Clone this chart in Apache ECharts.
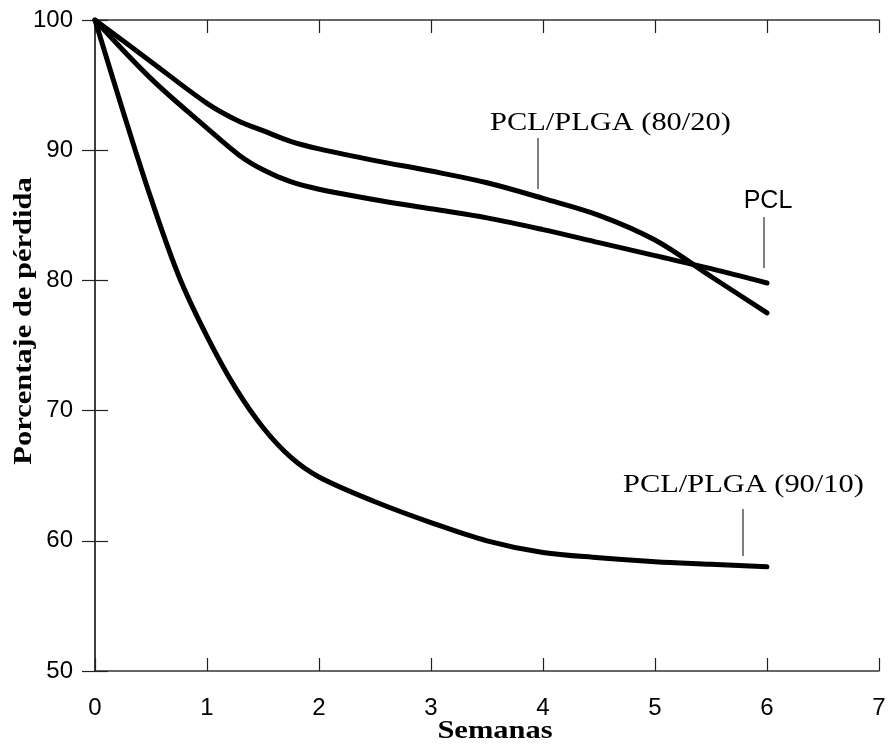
<!DOCTYPE html>
<html>
<head>
<meta charset="utf-8">
<script src="https://cdn.jsdelivr.net/npm/echarts@6/dist/echarts.min.js"></script>
<style>html,body{margin:0;padding:0;background:#fff}#c{width:888px;height:745px}</style>
</head>
<body>
<div id="c"></div>
<script>
// Data (weeks, percent)
const xTicks = [0, 1, 2, 3, 4, 5, 6, 7];
const yTicks = [50, 60, 70, 80, 90, 100];

const pclX = [0, 0.5, 1, 1.29, 1.5, 1.74, 2, 2.5, 3, 3.5, 4, 4.5, 5, 5.5, 6];
const pclY = [100, 95.5, 91.7, 89.6, 88.5, 87.6, 87.0, 86.2, 85.5, 84.8, 83.9, 82.9, 81.9, 80.9, 79.8];

const p8020X = [0, 0.5, 1, 1.29, 1.5, 1.74, 2, 2.5, 3, 3.5, 4, 4.5, 5, 5.5, 6];
const p8020Y = [100, 96.8, 93.6, 92.2, 91.5, 90.7, 90.1, 89.2, 88.4, 87.5, 86.3, 85.0, 83.1, 80.3, 77.5];

const p9010X = [0, 0.25, 0.5, 0.75, 1, 1.25, 1.5, 1.75, 2, 2.5, 3, 3.5, 4, 4.5, 5, 5.5, 6];
const p9010Y = [100, 93.0, 86.3, 80.3, 75.7, 71.8, 68.7, 66.4, 64.9, 63.0, 61.4, 60.0, 59.1, 58.7, 58.4, 58.2, 58.0];

const labels = ['PCL/PLGA (80/20)', 'PCL', 'PCL/PLGA (90/10)'];
const xTitle = 'Semanas';
const yTitle = 'Porcentaje de pérdida';

function pairs(xs, ys) { return xs.map((x, i) => [x, ys[i]]); }

const chart = echarts.init(document.getElementById('c'));
const axisLine = { show: true, lineStyle: { color: '#333', width: 1.5 } };
const tick = { show: true, inside: true, length: 13, lineStyle: { color: '#222', width: 1.2 } };
const serif = '"Liberation Serif", "Times New Roman", serif';
const sans = '"Liberation Sans", Arial, sans-serif';

const lineSeries = (name, data) => ({
  name, type: 'line', data, smooth: 0.35, showSymbol: false, symbol: 'none',
  lineStyle: { color: '#000', width: 5, cap: 'round', join: 'round' }, z: 5
});

chart.setOption({
  animation: false,
  grid: { left: 95, right: 9, top: 20, bottom: 74, containLabel: false, outerBoundsMode: 'none' },
  xAxis: [
    { type: 'value', min: 0, max: 7, interval: 1, position: 'bottom',
      axisLine, axisTick: tick, splitLine: { show: false },
      axisLabel: { fontFamily: sans, fontSize: 24, color: '#000', margin: 25 } },
    { type: 'value', min: 0, max: 7, interval: 1, position: 'top',
      axisLine, axisTick: tick, splitLine: { show: false }, axisLabel: { show: false } }
  ],
  yAxis: [
    { type: 'value', min: 50, max: 100, interval: 10, position: 'left',
      axisLine, axisTick: tick, splitLine: { show: false },
      axisLabel: { fontFamily: sans, fontSize: 24, color: '#000', margin: 22 } },
    { type: 'value', min: 50, max: 100, interval: 10, position: 'right',
      axisLine, axisTick: tick, splitLine: { show: false }, axisLabel: { show: false } }
  ],
  series: [
    lineSeries(labels[1], pairs(pclX, pclY)),
    lineSeries(labels[0], pairs(p8020X, p8020Y)),
    lineSeries(labels[2], pairs(p9010X, p9010Y))
  ],
  graphic: [
    { type: 'text', x: 495, y: 732, scaleX: 1.22,
      style: { text: xTitle, font: 'bold 25px ' + serif, fill: '#000', textAlign: 'center', textVerticalAlign: 'middle' } },
    { type: 'text', x: 25, y: 321, rotation: Math.PI / 2, scaleX: 1.22,
      style: { text: yTitle, font: 'bold 25px ' + serif, fill: '#000', textAlign: 'center', textVerticalAlign: 'middle' } },
    { type: 'text', x: 490, y: 123, scaleX: 1.17,
      style: { text: labels[0], font: '26px ' + serif, fill: '#000', textAlign: 'left', textVerticalAlign: 'middle' } },
    { type: 'line', shape: { x1: 538, y1: 138, x2: 538, y2: 189 }, style: { stroke: '#000', lineWidth: 1 } },
    { type: 'text', x: 768, y: 201,
      style: { text: labels[1], font: '25px ' + sans, fill: '#000', textAlign: 'center', textVerticalAlign: 'middle' } },
    { type: 'line', shape: { x1: 764, y1: 217, x2: 764, y2: 268 }, style: { stroke: '#000', lineWidth: 1 } },
    { type: 'text', x: 623, y: 485, scaleX: 1.17,
      style: { text: labels[2], font: '26px ' + serif, fill: '#000', textAlign: 'left', textVerticalAlign: 'middle' } },
    { type: 'line', shape: { x1: 743, y1: 509, x2: 743, y2: 556 }, style: { stroke: '#000', lineWidth: 1 } }
  ]
});
</script>
</body>
</html>
